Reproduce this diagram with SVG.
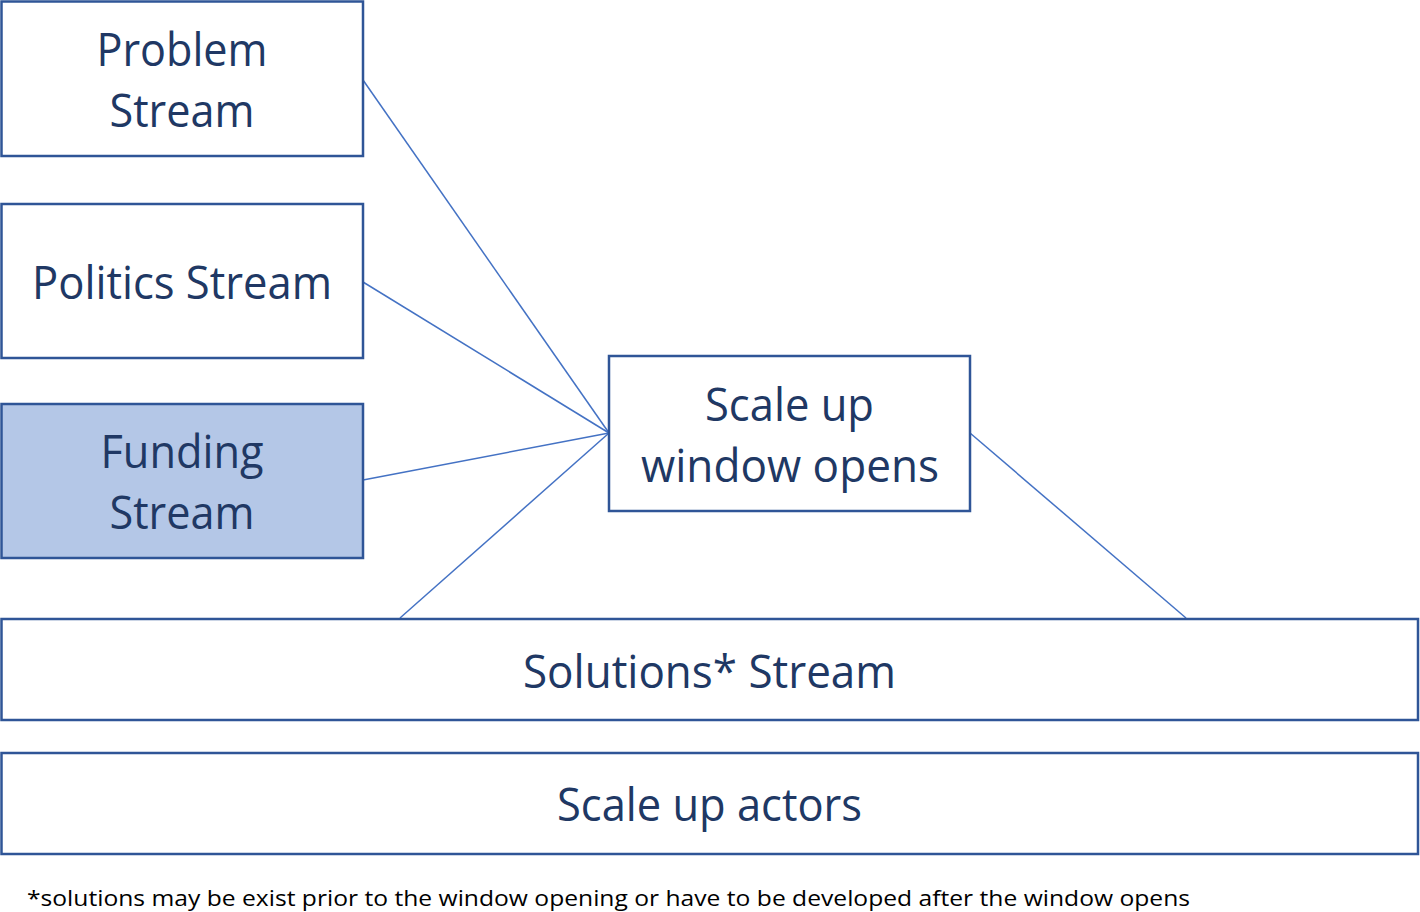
<svg xmlns="http://www.w3.org/2000/svg" width="1420" height="912" viewBox="0 0 1420 912">
<style>
.box{fill:#ffffff;stroke:#2F5597;stroke-width:2.5}
.fund{fill:#B4C7E7;stroke:#2F5597;stroke-width:2.5}
.t{font-family:"Open Sans","Liberation Sans",sans-serif;font-size:45px;fill:#203864;text-anchor:middle}
.c{stroke:#4472C4;stroke-width:1.5;fill:none}
.fn{font-family:"Open Sans","Liberation Sans",sans-serif;font-size:22px;fill:#000000}
</style>
<rect width="1420" height="912" fill="#ffffff"/>
<g id="connectors">
<line class="c" x1="363" y1="80" x2="609" y2="433"/>
<line class="c" x1="363" y1="282" x2="609" y2="433"/>
<line class="c" x1="363" y1="480" x2="609" y2="433"/>
<line class="c" x1="400" y1="618" x2="609" y2="433"/>
<line class="c" x1="970" y1="433" x2="1186" y2="618"/>
</g>
<g id="problem">
<rect class="box" x="1.5" y="1.5" width="361.5" height="154.5"/>
<text class="t" x="182" y="66" textLength="171" lengthAdjust="spacingAndGlyphs">Problem</text>
<text class="t" x="182" y="127" textLength="145" lengthAdjust="spacingAndGlyphs">Stream</text>
</g>
<g id="politics">
<rect class="box" x="1.5" y="204" width="361.5" height="154"/>
<text class="t" x="182" y="299" textLength="300" lengthAdjust="spacingAndGlyphs">Politics Stream</text>
</g>
<g id="funding">
<rect class="fund" x="1.5" y="404" width="361.5" height="154"/>
<text class="t" x="182" y="468" textLength="163" lengthAdjust="spacingAndGlyphs">Funding</text>
<text class="t" x="182" y="529" textLength="145" lengthAdjust="spacingAndGlyphs">Stream</text>
</g>
<g id="window">
<rect class="box" x="609" y="356" width="361" height="155"/>
<text class="t" x="789.5" y="421" textLength="169" lengthAdjust="spacingAndGlyphs">Scale up</text>
<text class="t" x="790" y="482" textLength="298" lengthAdjust="spacingAndGlyphs">window opens</text>
</g>
<g id="solutions">
<rect class="box" x="1.5" y="619" width="1416.5" height="101"/>
<text class="t" x="709.5" y="688" textLength="373" lengthAdjust="spacingAndGlyphs">Solutions* Stream</text>
</g>
<g id="actors">
<rect class="box" x="1.5" y="753" width="1416.5" height="101"/>
<text class="t" x="709.5" y="821" textLength="305" lengthAdjust="spacingAndGlyphs">Scale up actors</text>
</g>
<g id="footnote">
<text class="fn" x="27" y="906" textLength="1163" lengthAdjust="spacingAndGlyphs">*solutions may be exist prior to the window opening or have to be developed after the window opens</text>
</g>
</svg>
